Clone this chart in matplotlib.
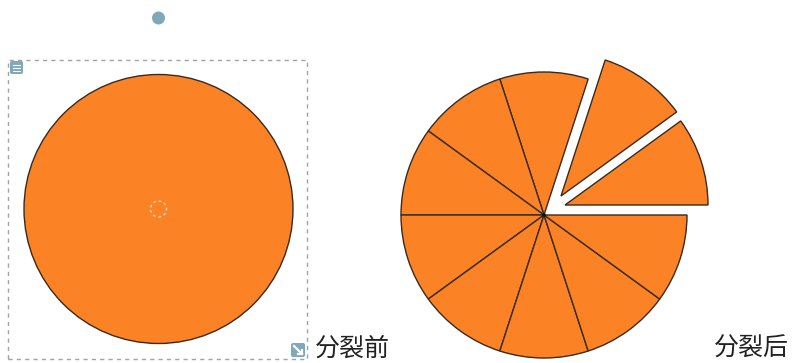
import numpy as np
import matplotlib
matplotlib.use("Agg")
import matplotlib.pyplot as plt
from matplotlib.patches import Circle, Wedge, Rectangle, FancyBboxPatch

plt.rcParams['font.family'] = ['Noto Sans CJK SC', 'DejaVu Sans']

# Daten: ein Kreis vorher, danach in zehn gleiche Stücke geteilt
slice_shares = [1, 1, 1, 1, 1, 1, 1, 1, 1, 1]
exploded = [0, 1]              # die beiden herausgezogenen Stücke
labels = ["分裂前", "分裂后"]

ORANGE = "#fc8226"
EDGE = "#3a2a1c"
TEAL = "#7fa8b8"

# Layout (Pixel, y nach oben)
W, H = 795, 363
left_c, left_r = (158.5, 154.0), 134.5
right_c, right_r = (544.0, 148.0), 143.0
explode_off = {0: (21, 10), 1: (17, 19)}

fig = plt.figure(figsize=(W / 100, H / 100), dpi=100)
ax = fig.add_axes([0, 0, 1, 1])
ax.set_xlim(0, W)
ax.set_ylim(0, H)
ax.set_aspect("equal")
ax.axis("off")

# --- links: ganzer Kreis mit Auswahlrahmen ---
ax.add_patch(Rectangle((8, 4), 299, 299, fill=False, ec="#a3a3a3", lw=1.0,
                       ls=(0, (3, 3))))
ax.add_patch(Circle(left_c, left_r, fc=ORANGE, ec=EDGE, lw=1.0))
ax.add_patch(Circle(left_c, 8, fill=False, ec="#ead2b8", lw=1.0, ls=(0, (2, 2))))
ax.add_patch(Circle((158.5, 345), 6.5, fc=TEAL, ec="none"))

# kleine Symbole am Rahmen
ax.add_patch(FancyBboxPatch((10, 289), 13, 13, boxstyle="round,pad=0,rounding_size=2",
                            fc=TEAL, ec="none"))
for yy in (292, 295, 298):
    ax.plot([13, 20], [yy, yy], color="white", lw=0.8)
ax.add_patch(FancyBboxPatch((291, 6), 14, 14, boxstyle="round,pad=0,rounding_size=2",
                            fc=TEAL, ec="none"))
ax.plot([294, 302], [17, 9], color="white", lw=1.6)
ax.plot([298, 302, 302], [9, 9, 13], color="white", lw=1.6)

# --- rechts: zehn Stücke ---
bounds = np.concatenate([[0], np.cumsum(slice_shares)]) / sum(slice_shares) * 360
for i in range(len(slice_shares)):
    dx, dy = explode_off.get(i, (0, 0)) if i in exploded else (0, 0)
    ax.add_patch(Wedge((right_c[0] + dx, right_c[1] + dy), right_r,
                       bounds[i], bounds[i + 1], fc=ORANGE, ec=EDGE, lw=1.0))
ax.add_patch(Circle(right_c, 1.8, fc="#111111", ec="none"))

# Beschriftungen
ax.text(315, 14, labels[0], fontsize=18, color="#222222", ha="left", va="center")
ax.text(714, 14, labels[1], fontsize=18, color="#222222", ha="left", va="center")

fig.savefig("out.png", dpi=100)
